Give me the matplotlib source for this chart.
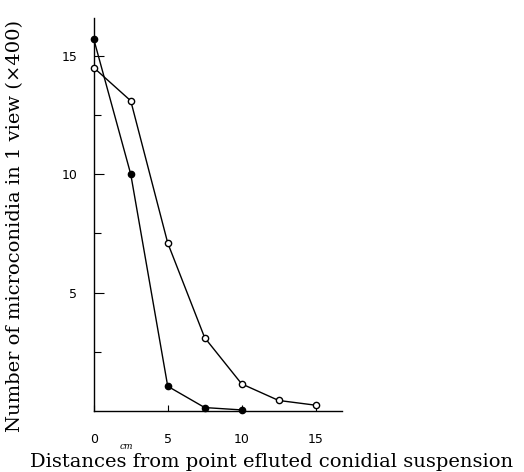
import numpy as np
import matplotlib.pyplot as plt

# distances (cm) and counts
dist_filled = [0, 2.5, 5, 7.5, 10]
count_filled = [15.7, 10.0, 1.05, 0.15, 0.05]

dist_open = [0, 2.5, 5, 7.5, 10, 12.5, 15]
count_open = [14.5, 13.1, 7.1, 3.1, 1.15, 0.45, 0.25]

xticks = [0, 5, 10, 15]
yticks = [5, 10, 15]
yminor = [2.5, 7.5, 12.5]

plt.rcParams['font.family'] = ['DejaVu Serif']

fig = plt.figure(figsize=(5.24, 4.72), dpi=100)
ax = fig.add_axes([0.179, 0.129, 0.474, 0.833])

ax.plot(dist_open, count_open, color='black', lw=1.0, marker='o',
        markersize=4.5, markerfacecolor='white', markeredgewidth=1.0,
        clip_on=False, zorder=3)
ax.plot(dist_filled, count_filled, color='black', lw=1.0, marker='o',
        markersize=4.5, markerfacecolor='black', clip_on=False, zorder=4)

ax.set_xlim(0, 16.8)
ax.set_ylim(0, 16.6)

for s in ['top', 'right']:
    ax.spines[s].set_visible(False)
ax.spines['left'].set_linewidth(1.0)
ax.spines['bottom'].set_linewidth(1.0)

ax.set_xticks(xticks)
ax.set_xticklabels(['0', '5', '10', '15'], family='DejaVu Sans', fontsize=9)
ax.set_yticks(yticks)
ax.set_yticklabels(['5', '10', '15'], family='DejaVu Sans', fontsize=9)
ax.set_yticks(yminor, minor=True)
ax.tick_params(axis='y', which='major', direction='in', length=7, width=0.8, pad=12)
ax.tick_params(axis='y', which='minor', direction='in', length=5, width=0.8)
ax.tick_params(axis='x', which='major', direction='in', length=4, width=0.8, pad=16)

ax.text(2.2, -1.5, 'cm', fontsize=6.5, style='italic', ha='center', va='center')

ax.set_ylabel('Number of microconidia in 1 view (\u00d7400)', fontsize=14)
ax.yaxis.set_label_coords(-0.28, 0.47)
fig.text(0.518, 0.022, 'Distances from point efluted conidial suspension',
         fontsize=14, ha='center', va='center')

fig.savefig('out.png', dpi=100)
